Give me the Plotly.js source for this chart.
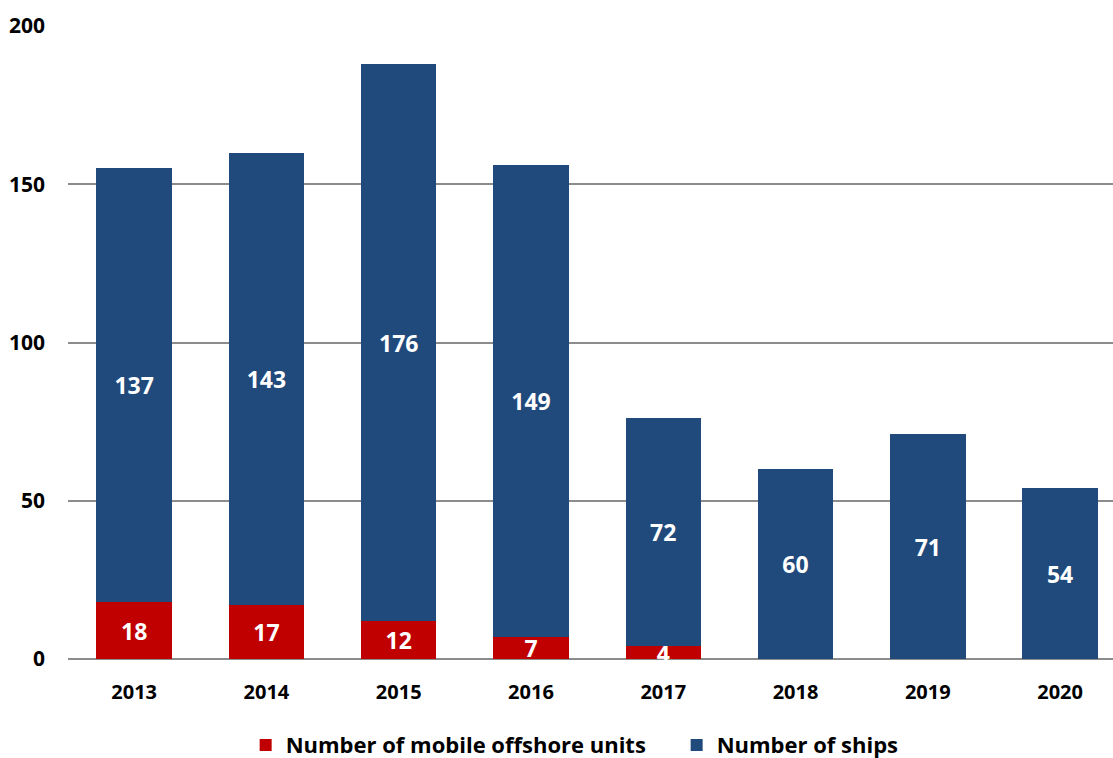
<!DOCTYPE html>
<html>
<head>
<meta charset="utf-8">
<script src="https://cdn.plot.ly/plotly-3.0.1.min.js"></script>
<style>html,body{margin:0;padding:0;background:#fff;}#chart{width:1113px;height:758px;}</style>
</head>
<body>
<div id="chart"></div>
<script>
const years = ['2013','2014','2015','2016','2017','2018','2019','2020'];
const offshoreUnits = [18, 17, 12, 7, 4, 0, 0, 0];
const ships = [137, 143, 176, 149, 72, 60, 71, 54];
const yTicks = [0, 50, 100, 150, 200];

const FONT = 'Open Sans, Noto Sans, sans-serif';

const traces = [
  {
    type: 'bar', name: 'Number of mobile offshore units',
    x: years, y: offshoreUnits,
    marker: {color: '#C00000'},
    text: offshoreUnits.map(v => v ? String(v) : ''),
    textposition: 'inside', insidetextanchor: 'middle', textangle: 0,
    textfont: {color: '#ffffff', size: 23, family: FONT, weight: 'bold'},
    hoverinfo: 'none', cliponaxis: false
  },
  {
    type: 'bar', name: 'Number of ships',
    x: years, y: ships,
    marker: {color: '#214A7C'},
    text: ships.map(String),
    textposition: 'inside', insidetextanchor: 'middle', textangle: 0,
    textfont: {color: '#ffffff', size: 23, family: FONT, weight: 'bold'},
    hoverinfo: 'none'
  }
];

const layout = {
  width: 1113, height: 758,
  barmode: 'stack', bargap: 0.43,
  margin: {l: 68, r: 0, t: 26, b: 99, autoexpand: false},
  paper_bgcolor: '#ffffff', plot_bgcolor: '#ffffff',
  font: {family: FONT, color: '#000000'},
  uniformtext: {mode: 'show', minsize: 23},
  showlegend: true,
  legend: {orientation: 'h', x: 0.170, xanchor: 'left', y: -0.136, yanchor: 'middle',
           font: {size: 22, family: FONT, weight: 'bold'}, traceorder: 'normal', itemwidth: 30,
           entrywidth: 386},
  xaxis: {type: 'category', range: [-0.5, 7.4], showgrid: false, showline: false, zeroline: false,
          ticks: '', tickfont: {size: 20, family: FONT, weight: 'bold'}, ticklabelstandoff: 19},
  yaxis: {range: [0, 200], tickvals: yTicks, ticktext: yTicks.map(String),
          showgrid: true, gridcolor: '#8c8c8c', gridwidth: 2, zeroline: true, zerolinecolor: '#8c8c8c', zerolinewidth: 2,
          showline: false, ticks: '', tickfont: {size: 21, family: FONT, weight: 'bold'}, ticklabelstandoff: 22}
};

Plotly.newPlot('chart', traces, layout, {displayModeBar: false, staticPlot: true});
</script>
</body>
</html>
